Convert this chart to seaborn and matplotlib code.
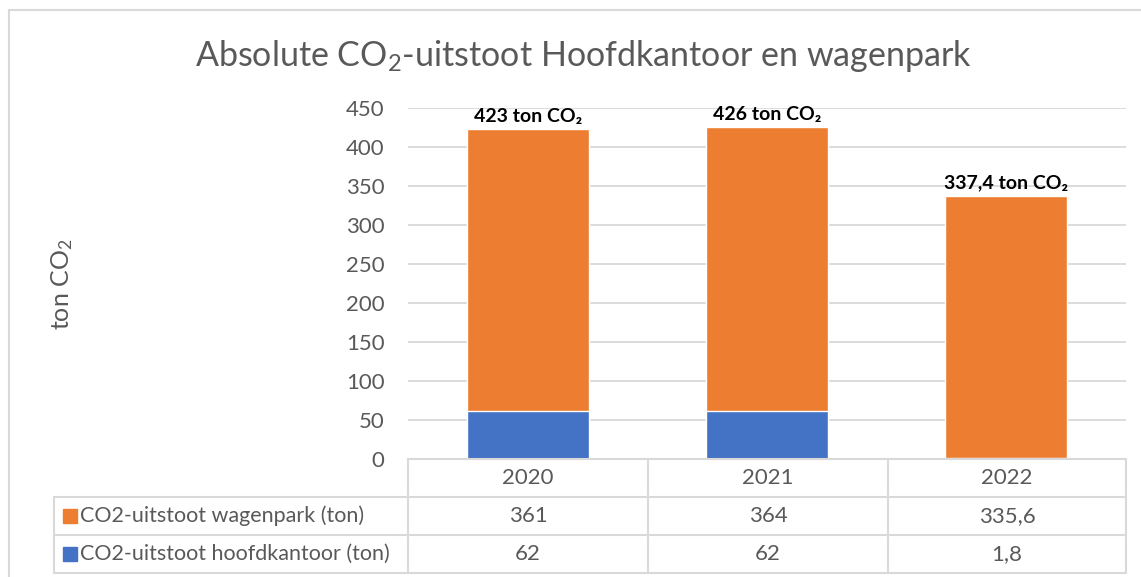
import numpy as np
import pandas as pd
import matplotlib
matplotlib.use("Agg")
import matplotlib.pyplot as plt
from matplotlib.lines import Line2D
from matplotlib.patches import Rectangle
import seaborn as sns

jaren = ["2020", "2021", "2022"]
wagenpark = [361, 364, 335.6]
hoofdkantoor = [62, 62, 1.8]
wagenpark_txt = ["361", "364", "335,6"]
hoofdkantoor_txt = ["62", "62", "1,8"]
label_wagenpark = "CO2-uitstoot wagenpark (ton)"
label_hoofdkantoor = "CO2-uitstoot hoofdkantoor (ton)"
totaal_txt = ["423 ton CO₂", "426 ton CO₂", "337,4 ton CO₂"]

ORANJE = "#ED7D31"
BLAUW = "#4472C4"
GRIJS = "#595959"
LIJN = "#D9D9D9"

sns.set_style("white")
plt.rcParams["font.family"] = ["Lato", "DejaVu Sans"]
plt.rcParams["mathtext.fontset"] = "custom"
plt.rcParams["mathtext.rm"] = "Lato"
plt.rcParams["mathtext.it"] = "Lato"

W, H = 1141, 577
fig = plt.figure(figsize=(W / 100, H / 100), dpi=100)

def fx(px):
    return px / W

def fy(py):
    return 1 - py / H

# plot area in pixel terms
x0, x1, ytop, ybot = 408, 1126, 108, 459
ax = fig.add_axes([fx(x0), fy(ybot), fx(x1) - fx(x0), fy(ytop) - fy(ybot)])

df = pd.DataFrame({"jaar": jaren, "wagenpark": wagenpark, "hoofdkantoor": hoofdkantoor})
df["totaal"] = df["wagenpark"] + df["hoofdkantoor"]

sns.barplot(data=df, x="jaar", y="totaal", color=ORANJE, width=0.51,
            saturation=1, ax=ax, zorder=2)
sns.barplot(data=df, x="jaar", y="hoofdkantoor", color=BLAUW, width=0.51,
            saturation=1, ax=ax, zorder=3)

ax.set_ylim(0, 450)
ax.set_xlim(-0.5, 2.5)
ax.set_yticks(np.arange(0, 451, 50))
ax.yaxis.grid(True, color=LIJN, linewidth=1.3, zorder=0)
ax.set_axisbelow(True)
for s in ["top", "right", "left", "bottom"]:
    ax.spines[s].set_visible(False)
ax.tick_params(axis="y", labelsize=16, labelcolor=GRIJS, length=0, pad=17)
ax.set_xticks([])
ax.set_xlabel("")
ax.set_ylabel("")

for i, t in enumerate(totaal_txt):
    ax.annotate(t, (i, df["totaal"][i]), xytext=(0, 3), textcoords="offset points",
                ha="center", va="bottom", fontsize=14, fontweight="bold", color="black")

# y label and title
fig.text(fx(62), fy(284), "ton CO$_2$", rotation=90, ha="center", va="center",
         fontsize=18, color=GRIJS)
fig.text(fx(583), fy(56), "Absolute CO$_2$-uitstoot Hoofdkantoor en wagenpark",
         ha="center", va="center", fontsize=24.5, color=GRIJS)

# outer chart border
fig.add_artist(Rectangle((fx(9), fy(H + 5)), fx(W + 10) - fx(9), fy(10) - fy(H + 5),
                         transform=fig.transFigure, fill=False, edgecolor=LIJN, linewidth=1.5))

# data table under the chart
kol = [408, 648, 888, 1126]
rij = [459, 497, 535, 573]
tl = 54

def lijn(xa, xb, ya, yb):
    fig.add_artist(Line2D([fx(xa), fx(xb)], [fy(ya), fy(yb)], transform=fig.transFigure,
                          color=LIJN, linewidth=1.5))

lijn(kol[0], kol[-1], rij[0], rij[0])
for y in rij[1:]:
    lijn(tl, kol[-1], y, y)
for x in kol:
    lijn(x, x, rij[0], rij[-1])
lijn(tl, tl, rij[1], rij[-1])

for j, jr in enumerate(jaren):
    xm = (kol[j] + kol[j + 1]) / 2
    fig.text(fx(xm), fy((rij[0] + rij[1]) / 2), jr, ha="center", va="center",
             fontsize=16, color=GRIJS)
    fig.text(fx(xm), fy((rij[1] + rij[2]) / 2), wagenpark_txt[j], ha="center", va="center",
             fontsize=16, color=GRIJS)
    fig.text(fx(xm), fy((rij[2] + rij[3]) / 2), hoofdkantoor_txt[j], ha="center", va="center",
             fontsize=16, color=GRIJS)

for r, (lab, kleur) in enumerate([(label_wagenpark, ORANJE), (label_hoofdkantoor, BLAUW)]):
    ym = (rij[r + 1] + rij[r + 2]) / 2
    fig.add_artist(Rectangle((fx(63), fy(ym + 7)), fx(14) - fx(0), fy(0) - fy(14),
                             transform=fig.transFigure, color=kleur))
    fig.text(fx(80), fy(ym), lab, ha="left", va="center", fontsize=15.5, color=GRIJS)

fig.savefig("out.png", dpi=100)
